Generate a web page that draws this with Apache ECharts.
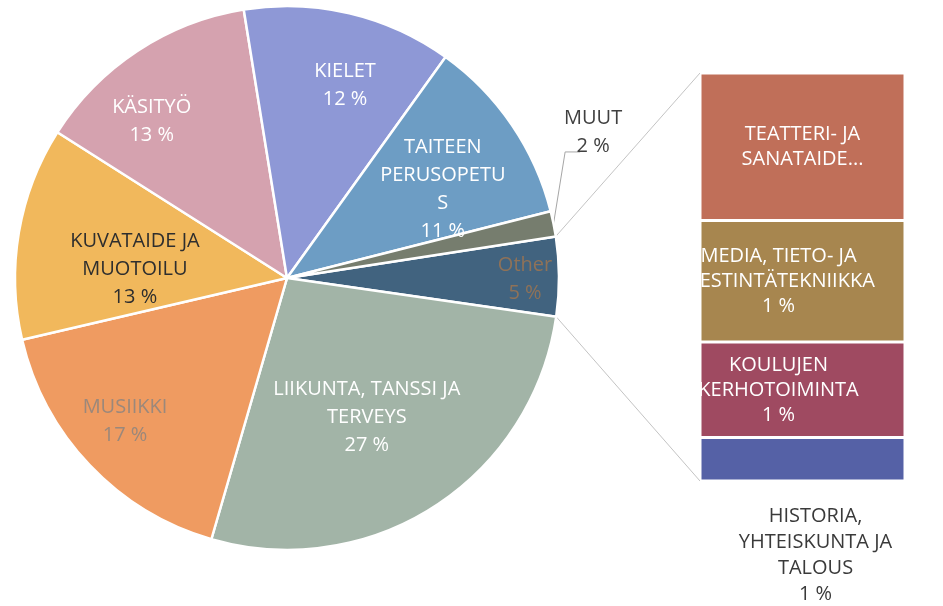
<!DOCTYPE html>
<html>
<head>
<meta charset="utf-8">
<script src="https://cdn.jsdelivr.net/npm/echarts@6/dist/echarts.min.js"></script>
<style>
html,body{margin:0;padding:0;background:#ffffff;}
#chart{width:943px;height:606px;}
</style>
</head>
<body>
<div id="chart"></div>
<script>
// ---- data ----
const mainNames = ['LIIKUNTA, TANSSI JA\nTERVEYS', 'MUSIIKKI', 'KUVATAIDE JA\nMUOTOILU', 'KÄSITYÖ', 'KIELET', 'TAITEEN\nPERUSOPETU\nS', 'MUUT'];
const mainValues = [27.1, 16.8, 12.6, 13.4, 12.4, 11.1, 1.5];
const otherName = 'Other';
const barNames = ['TEATTERI- JA\nSANATAIDE', 'MEDIA, TIETO- JA\nVIESTINTÄTEKNIIKKA', 'KOULUJEN\nKERHOTOIMINTA', 'HISTORIA,\nYHTEISKUNTA JA\nTALOUS'];
const barValues = [1.7, 1.4, 1.1, 0.5];

// ---- styles ----
const pieColors = ['#41637f', '#a2b4a7', '#ef9b61', '#f1b85c', '#d5a2af', '#8e98d6', '#6d9dc4', '#767d6e'];
const pieLabelColors = ['#8f7258', '#ffffff', '#9b887b', '#2e2e2e', '#ffffff', '#ffffff', '#ffffff', '#404040'];
// [radius factor, angle shift in degrees] for label placement
const pieLabelPlace = [[0.875, 0.5], [0.59, 3], [0.795, 2], [0.56, -6.5], [0.76, -7.5], [0.74, 3.5], [0.66, 4.5], [1.247, -14.0]];
const barColors = ['#c06f59', '#a7864f', '#9f4a61', '#5561a6'];
const FONT = 'Open Sans';

const otherValue = barValues.reduce((a, b) => a + b, 0);
const pieNamesAll = [otherName].concat(mainNames);
const pieValuesAll = [otherValue].concat(mainValues);
const total = pieValuesAll.reduce((a, b) => a + b, 0);

const CX = 287, CY = 278, R = 272;
const otherSweep = otherValue / total * 360;
const startScreen = -otherSweep / 2 - 0.3; // screen angle (clockwise from east)
const midAngles = [];
(function () {
  let acc = startScreen;
  pieValuesAll.forEach(v => {
    const s = v / total * 360;
    midAngles.push(acc + s / 2);
    acc += s;
  });
})();

function pct(v) { return Math.round(v / total * 100) + ' %'; }

const chart = echarts.init(document.getElementById('chart'), null, {renderer: 'canvas'});

const lastIdx = pieNamesAll.length - 1;
const pieData = pieNamesAll.map((n, i) => {
  const item = {
    name: n, value: pieValuesAll[i],
    itemStyle: {color: pieColors[i]},
    label: {color: pieLabelColors[i]}
  };
  if (i === lastIdx) {
    item.label = {position: 'outside', color: pieLabelColors[i]};
    item.labelLine = {show: true, length: 20, length2: 10, lineStyle: {color: '#a6a6a6', width: 1}};
  }
  return item;
});

const barSeries = barNames.map((n, i) => {
  const lab = {
    show: true, position: 'inside', color: '#ffffff',
    fontFamily: FONT, fontSize: 20, lineHeight: 25,
    formatter: () => i === 0 ? n + '...' : n + '\n' + pct(barValues[i])
  };
  if (i === 1 || i === 2) lab.offset = [-24, 0];
  if (i === 3) {
    lab.position = 'bottom';
    lab.distance = 22;
    lab.color = '#3a3a3a';
    lab.lineHeight = 26;
    lab.offset = [13, 0];
  }
  return {
    type: 'bar', name: n, stack: 'other', xAxisIndex: 0, yAxisIndex: 0,
    barWidth: '100%',
    data: [barValues[i]],
    itemStyle: {color: barColors[i], borderColor: '#ffffff', borderWidth: 1.5},
    label: lab,
    silent: true
  };
});

const option = {
  backgroundColor: '#ffffff',
  animation: false,
  grid: {left: 700, top: 73, width: 205, height: 408},
  xAxis: {type: 'category', data: ['Other'], show: false},
  yAxis: {type: 'value', min: 0, max: otherValue, inverse: true, show: false},
  series: [{
    type: 'pie',
    center: [CX, CY],
    radius: [0, R],
    startAngle: -startScreen,
    clockwise: true,
    silent: true,
    data: pieData,
    itemStyle: {borderColor: '#ffffff', borderWidth: 2.5},
    label: {
      show: true, position: 'inside',
      fontFamily: FONT, fontSize: 20, lineHeight: 28,
      formatter: p => p.name + '\n' + pct(p.value)
    },
    labelLine: {show: false},
    labelLayout: function (params) {
      const i = params.dataIndex;
      const pl = pieLabelPlace[i];
      const a = (midAngles[i] + pl[1]) * Math.PI / 180;
      const x = CX + pl[0] * R * Math.cos(a);
      const y = CY + pl[0] * R * Math.sin(a);
      const res = {x: x, y: y, align: 'center', verticalAlign: 'middle'};
      if (i === lastIdx) {
        const am = midAngles[i] * Math.PI / 180;
        const ex = CX + R * Math.cos(am), ey = CY + R * Math.sin(am);
        res.labelLinePoints = [[ex, ey], [x - 28, y + 20], [x - 13, y + 20]];
      }
      return res;
    }
  }].concat(barSeries)
};

chart.setOption(option);

// connector lines from the "Other" slice to the bar
(function () {
  const a0 = startScreen * Math.PI / 180;
  const a1 = (startScreen + otherSweep) * Math.PI / 180;
  const pTop = chart.convertToPixel({gridIndex: 0}, ['Other', 0]);
  const pBot = chart.convertToPixel({gridIndex: 0}, ['Other', otherValue]);
  const left = option.grid.left;
  chart.setOption({
    graphic: [
      {type: 'line', silent: true, z: 0,
        shape: {x1: CX + R * Math.cos(a0), y1: CY + R * Math.sin(a0), x2: left, y2: pTop[1]},
        style: {stroke: '#c4c4c4', lineWidth: 1}},
      {type: 'line', silent: true, z: 0,
        shape: {x1: CX + R * Math.cos(a1), y1: CY + R * Math.sin(a1), x2: left, y2: pBot[1]},
        style: {stroke: '#c4c4c4', lineWidth: 1}}
    ]
  });
})();
</script>
</body>
</html>
